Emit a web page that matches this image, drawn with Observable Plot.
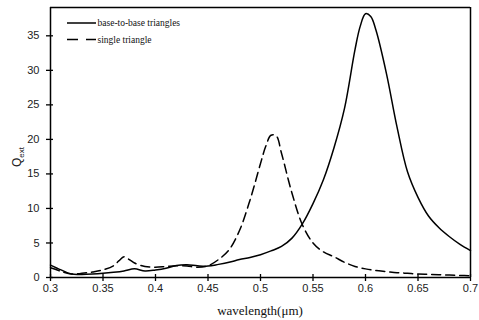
<!DOCTYPE html>
<html><head><meta charset="utf-8">
<script src="https://cdn.jsdelivr.net/npm/d3@7"></script>
<script src="https://cdn.jsdelivr.net/npm/@observablehq/plot@0.6"></script>
<style>body{margin:0;background:#fff;} svg{display:block;}</style>
</head><body><div id="chart"></div>
<script>
const seriesNames = ["base-to-base triangles", "single triangle"];
const wlSolid = [0.30,0.31,0.32,0.33,0.34,0.35,0.36,0.37,0.38,0.39,0.40,0.41,0.42,0.43,0.44,0.45,0.46,0.47,0.48,0.49,0.50,0.51,0.52,0.53,0.54,0.55,0.56,0.57,0.58,0.59,0.595,0.60,0.605,0.61,0.62,0.63,0.64,0.65,0.66,0.67,0.68,0.69,0.70];
const qSolid  = [1.8,1.1,0.5,0.45,0.5,0.6,0.75,0.95,1.25,0.95,1.1,1.35,1.75,1.85,1.7,1.65,1.9,2.2,2.6,2.9,3.3,3.85,4.5,5.7,7.8,10.7,14.2,18.8,24.5,33.0,36.4,38.2,37.8,35.8,29.5,21.8,15.3,11.6,8.9,7.2,5.9,4.8,3.9];
const wlDash  = [0.30,0.31,0.32,0.33,0.34,0.35,0.36,0.365,0.37,0.375,0.38,0.39,0.40,0.41,0.42,0.43,0.44,0.45,0.46,0.47,0.48,0.49,0.50,0.505,0.51,0.515,0.52,0.53,0.54,0.55,0.56,0.57,0.58,0.59,0.60,0.61,0.62,0.63,0.64,0.65,0.66,0.67,0.68,0.69,0.70];
const qDash   = [1.4,0.9,0.5,0.6,0.8,1.1,1.7,2.4,3.0,2.6,2.1,1.6,1.5,1.6,1.7,1.65,1.5,1.7,2.6,4.0,6.8,11.2,16.5,19.0,20.6,20.5,18.0,12.2,7.6,5.0,3.7,3.0,2.2,1.6,1.25,1.0,0.85,0.7,0.6,0.5,0.45,0.4,0.35,0.3,0.25];
const xTicks = [0.3,0.35,0.4,0.45,0.5,0.55,0.6,0.65,0.7];
const yTicks = [0,5,10,15,20,25,30,35];
const xDomain = [0.3, 0.7];
const yDomain = [0, 39.1];
const xLabel = "wavelength(μm)";

const solid = wlSolid.map((x,i)=>({x, y:qSolid[i]}));
const dash = wlDash.map((x,i)=>({x, y:qDash[i]}));

const chart = Plot.plot({
  width: 479, height: 320,
  marginLeft: 50, marginRight: 9, marginTop: 7, marginBottom: 43,
  x: {domain: xDomain},
  y: {domain: yDomain},
  style: {fontFamily: "Liberation Sans, Arial, sans-serif", fontSize: "11px", color: "#222", background: "#fff"},
  marks: [
    Plot.line(solid, {x:"x", y:"y", stroke:"black", strokeWidth:1.5, curve:"catmull-rom"}),
    Plot.line(dash, {x:"x", y:"y", stroke:"black", strokeWidth:1.5, strokeDasharray:"9,5", curve:"catmull-rom"}),
    Plot.ruleX(xDomain, {stroke:"black", strokeWidth:1.5}),
    Plot.ruleY(yDomain, {stroke:"black", strokeWidth:1.5}),
    Plot.axisX(xTicks, {tickSize:4, tickPadding:3, tickFormat: d => String(+d.toFixed(2)), label:null, stroke:"black", strokeWidth:1.3}),
    Plot.axisX(xTicks, {tickSize:-3, text:null, label:null, stroke:"black", strokeWidth:1.3}),
    Plot.axisY(yTicks, {tickSize:4, tickPadding:7, label:null, stroke:"black", strokeWidth:1.3}),
    Plot.axisY(yTicks, {tickSize:-3, text:null, label:null, stroke:"black", strokeWidth:1.3})
  ]
});
document.getElementById("chart").appendChild(chart);

const svg = d3.select(chart);
// x label
svg.append("text").attr("x", 260).attr("y", 315).attr("text-anchor","middle")
  .attr("font-family","Liberation Serif, Times New Roman, serif").attr("font-size",13).attr("fill","#111").text(xLabel);
// y label Q_ext
const yl = svg.append("text").attr("transform","translate(21,157) rotate(-90)").attr("text-anchor","middle")
  .attr("font-family","Liberation Sans, Arial, sans-serif").attr("font-size",12).attr("fill","#222");
yl.append("tspan").text("Q");
yl.append("tspan").attr("font-size",8).attr("dy",3).text("ext");
// legend
const lg = svg.append("g").attr("font-family","Liberation Serif, Times New Roman, serif").attr("font-size",9.5).attr("fill","#111").attr("text-anchor","start");
[[0,"none"],[1,"11,8"]].forEach(([i,da])=>{
  const yy = 23 + i*16.5;
  lg.append("line").attr("x1",67).attr("x2",96).attr("y1",yy).attr("y2",yy).attr("stroke","black").attr("stroke-width",1.5).attr("stroke-dasharray",da);
  lg.append("text").attr("x",97.5).attr("y",yy).attr("dy","0.32em").attr("text-anchor","start").text(seriesNames[i]);
});
</script></body></html>
